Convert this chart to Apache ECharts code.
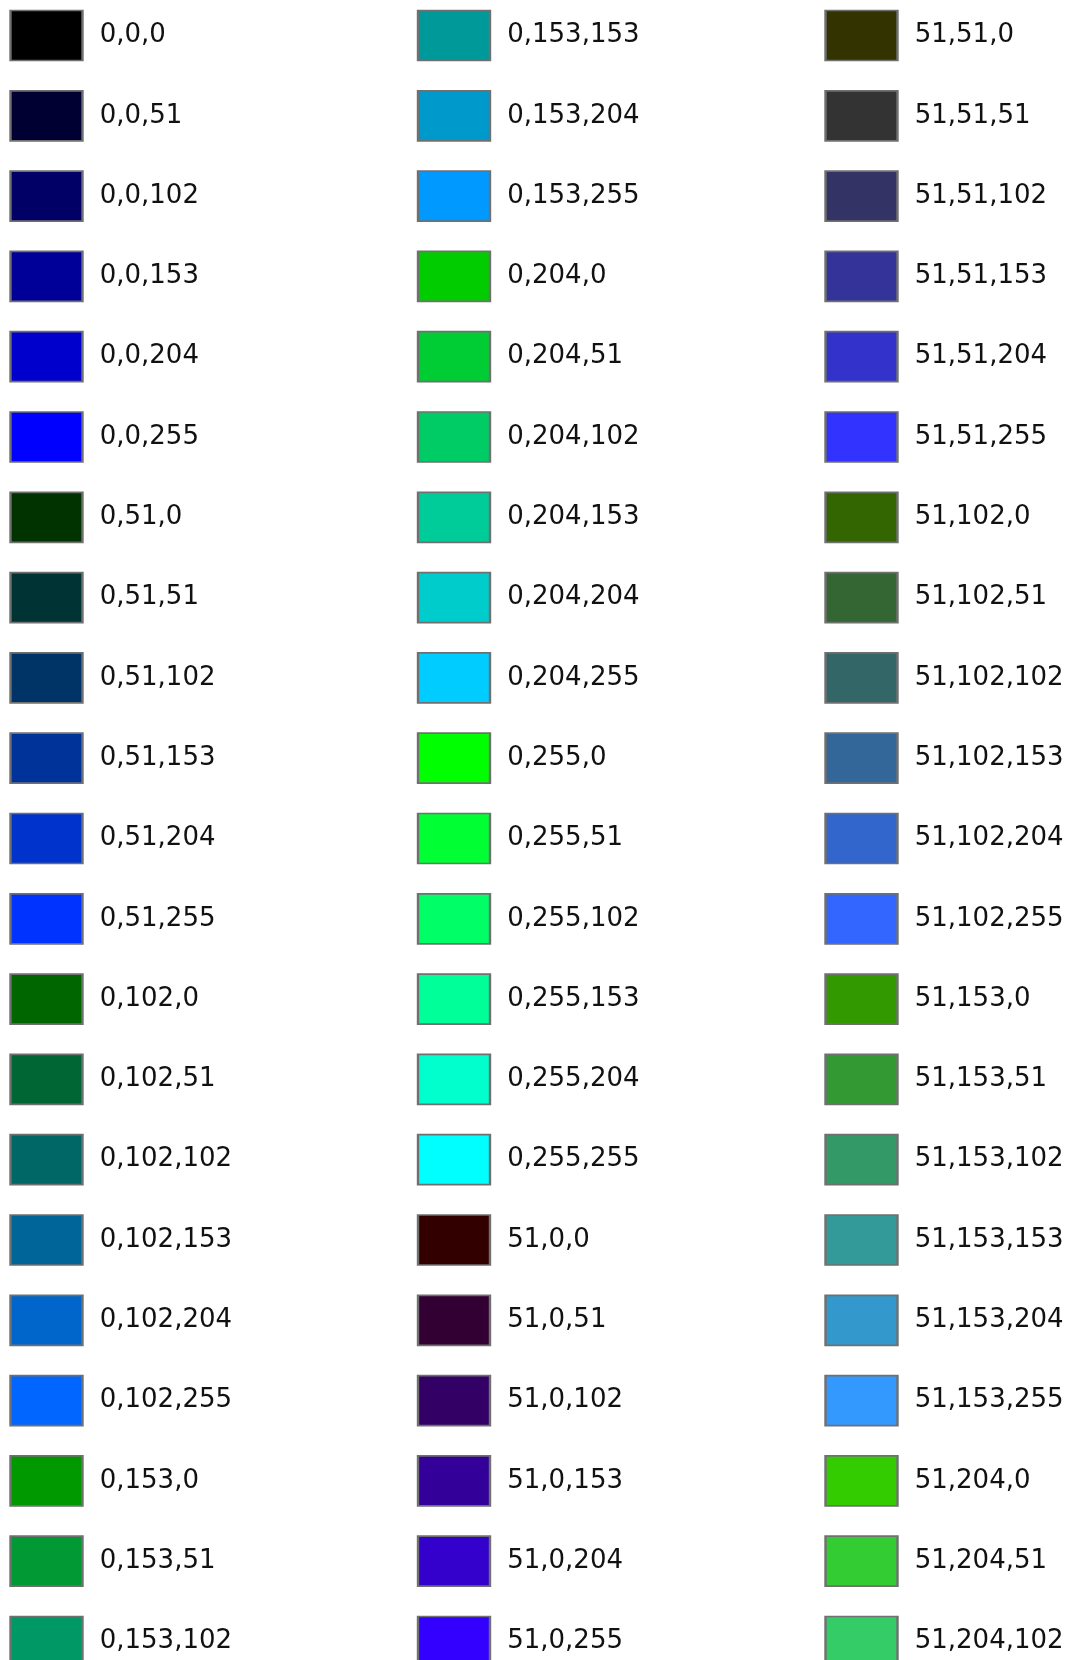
<!DOCTYPE html>
<html>
<head>
<meta charset="utf-8">
<script src="https://cdn.jsdelivr.net/npm/echarts@6/dist/echarts.min.js"></script>
<style>
  html, body { margin: 0; padding: 0; background: #fff; }
  #main { width: 1071px; height: 1660px; }
</style>
</head>
<body>
<div id="main"></div>
<script>
// 三列颜色标签（RGB 值）
var col1 = ['0,0,0', '0,0,51', '0,0,102', '0,0,153', '0,0,204', '0,0,255',
  '0,51,0', '0,51,51', '0,51,102', '0,51,153', '0,51,204', '0,51,255',
  '0,102,0', '0,102,51', '0,102,102', '0,102,153', '0,102,204', '0,102,255',
  '0,153,0', '0,153,51', '0,153,102'];
var col2 = ['0,153,153', '0,153,204', '0,153,255', '0,204,0', '0,204,51', '0,204,102',
  '0,204,153', '0,204,204', '0,204,255', '0,255,0', '0,255,51', '0,255,102',
  '0,255,153', '0,255,204', '0,255,255', '51,0,0', '51,0,51', '51,0,102',
  '51,0,153', '51,0,204', '51,0,255'];
var col3 = ['51,51,0', '51,51,51', '51,51,102', '51,51,153', '51,51,204', '51,51,255',
  '51,102,0', '51,102,51', '51,102,102', '51,102,153', '51,102,204', '51,102,255',
  '51,153,0', '51,153,51', '51,153,102', '51,153,153', '51,153,204', '51,153,255',
  '51,204,0', '51,204,51', '51,204,102'];

var columns = [col1, col2, col3];
var data = [];
for (var c = 0; c < columns.length; c++) {
  for (var r = 0; r < columns[c].length; r++) {
    data.push({
      name: columns[c][r],
      value: [c, r],
      itemStyle: { color: 'rgb(' + columns[c][r] + ')' }
    });
  }
}

var myChart = echarts.init(document.getElementById('main'));
var option = {
  backgroundColor: '#ffffff',
  animation: false,
  grid: { left: 46.5, right: 209.5, top: 35.5, bottom: 18.5 },
  xAxis: { type: 'value', min: 0, max: 2, show: false },
  yAxis: { type: 'value', min: 0, max: 20, inverse: true, show: false },
  series: [{
    type: 'scatter',
    symbol: 'rect',
    symbolSize: [72, 50],
    clip: false,
    itemStyle: { borderColor: '#707070', borderWidth: 2, opacity: 1 },
    label: {
      show: true,
      position: 'right',
      distance: 16,
      formatter: '{b}',
      fontFamily: 'DejaVu Sans',
      fontSize: 26,
      color: '#111111'
    },
    emphasis: { disabled: true },
    data: data
  }]
};
myChart.setOption(option);
</script>
</body>
</html>
